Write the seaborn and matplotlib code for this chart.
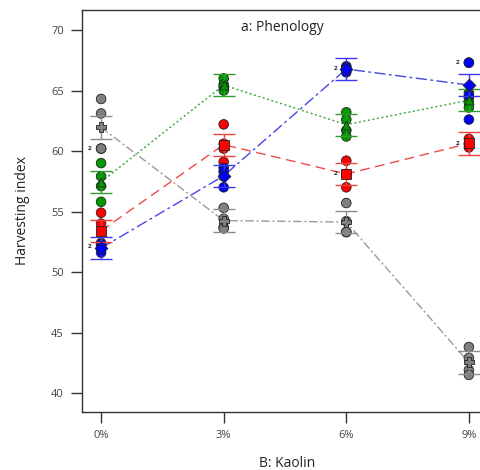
import numpy as np
import pandas as pd
import matplotlib
matplotlib.use("Agg")
import matplotlib.pyplot as plt
import seaborn as sns

# Kaolin levels on the x axis
kaolin = ["0%", "3%", "6%", "9%"]

# Phenology groups (one line each) with their replicate observations per kaolin level
groups = ["gray", "green", "red", "blue"]

obs_gray = [[64.3, 63.1, 60.2, 60.2],
            [55.3, 54.4, 53.7, 53.6],
            [55.7, 54.2, 53.3, 53.3],
            [43.8, 42.9, 41.9, 41.5]]
obs_green = [[59.0, 57.9, 57.1, 55.8],
             [66.0, 65.5, 65.3, 65.0],
             [63.2, 62.6, 61.7, 61.2],
             [64.8, 64.4, 64.0, 63.6]]
obs_red = [[54.9, 54.0, 52.4, 52.3],
           [62.2, 60.6, 60.2, 59.1],
           [59.2, 58.1, 58.1, 57.0],
           [61.0, 60.6, 60.6, 60.3]]
obs_blue = [[52.3, 52.1, 51.9, 51.6],
            [58.6, 58.3, 57.9, 57.0],
            [67.0, 66.9, 66.7, 66.5],
            [67.3, 67.3, 64.6, 62.6]]

# Half-width of the LSD bars drawn around each mean
lsd_half = 0.92

# Replicate counts written next to coincident points: (group, level, value, label)
rep_labels = [("gray", 0, 60.2, "2"), ("blue", 0, 52.1, "2"),
              ("red", 2, 58.1, "2"), ("blue", 2, 66.8, "2"),
              ("blue", 3, 67.3, "2"), ("red", 3, 60.6, "2")]

obs = {"gray": obs_gray, "green": obs_green, "red": obs_red, "blue": obs_blue}

rows = []
for g in groups:
    for i, lvl in enumerate(kaolin):
        for v in obs[g][i]:
            rows.append({"group": g, "pos": i, "kaolin": lvl, "hi": v})
df = pd.DataFrame(rows)
means = df.groupby(["group", "pos"], as_index=False)["hi"].mean()

point_col = {"gray": "#808080", "green": "#009a00", "red": "#ff0000", "blue": "#0000ff"}
line_col = {"gray": "#9a9a9a", "green": "#3aa83a", "red": "#f04a4a", "blue": "#4646e6"}
bar_col = {"gray": "#8a8a8a", "green": "#2e9e2e", "red": "#f04040", "blue": "#3a3aee"}
dashes = {"gray": (6, 2, 1.5, 2), "green": (1.5, 1.8), "red": (7, 4), "blue": (8, 2.5, 2, 2.5)}
mean_marker = {"gray": "P", "green": "^", "red": "s", "blue": "D"}

sns.set_theme(style="white")
plt.rcParams["font.family"] = ["Open Sans", "DejaVu Sans"]

fig = plt.figure(figsize=(4.8, 4.7), dpi=100)
ax = fig.add_axes([82 / 480, 1 - 412 / 470, 410 / 480, 402 / 470])

# Mean lines
sns.lineplot(data=means, x="pos", y="hi", hue="group", style="group",
             palette=line_col, dashes=dashes, markers=False, lw=1.0,
             legend=False, ax=ax, zorder=2)

# Replicate observations
sns.scatterplot(data=df, x="pos", y="hi", hue="group", palette=point_col,
                s=48, edgecolor="#222222", linewidth=0.6, legend=False,
                ax=ax, zorder=3)

# LSD bars and mean markers
for g in groups:
    m = means[means["group"] == g]
    ax.errorbar(m["pos"], m["hi"], yerr=lsd_half, fmt="none", ecolor=bar_col[g],
                elinewidth=1.0, capsize=8, capthick=1.0, zorder=4)
    ax.scatter(m["pos"], m["hi"], marker=mean_marker[g], s=42 if g != "gray" else 60,
               color=point_col[g], edgecolor="#222222", linewidth=0.6, zorder=5)

for g, i, v, lab in rep_labels:
    ax.annotate(lab, (i, v), xytext=(-8, 0), textcoords="offset points",
                fontsize=4.5, fontweight="bold", color="#222222",
                ha="center", va="center", zorder=6)

ax.set_xlim(-19 / 122, 3 + 23 / 122)
ax.set_ylim(40 - 19 / 12.1, 70 + 20 / 12.1)
ax.set_xticks(range(4))
ax.set_xticklabels(kaolin)
ax.set_yticks([40, 45, 50, 55, 60, 65, 70])
ax.tick_params(axis="both", direction="out", length=8, width=1.0, color="#333333",
               labelsize=8, labelcolor="#444444", pad=5,
               left=True, bottom=True)
for sp in ax.spines.values():
    sp.set_color("#333333")
    sp.set_linewidth(1.0)

ax.set_xlabel("B: Kaolin", fontsize=10, color="#222222", labelpad=11)
ax.set_ylabel("Harvesting index", fontsize=10, color="#222222", labelpad=15)
ax.text(0.5 * (0 + 410 - 10) / 410, 0.975, "a: Phenology", transform=ax.transAxes,
        ha="center", va="top", fontsize=10, color="#222222")

fig.savefig("out.png", dpi=100)
